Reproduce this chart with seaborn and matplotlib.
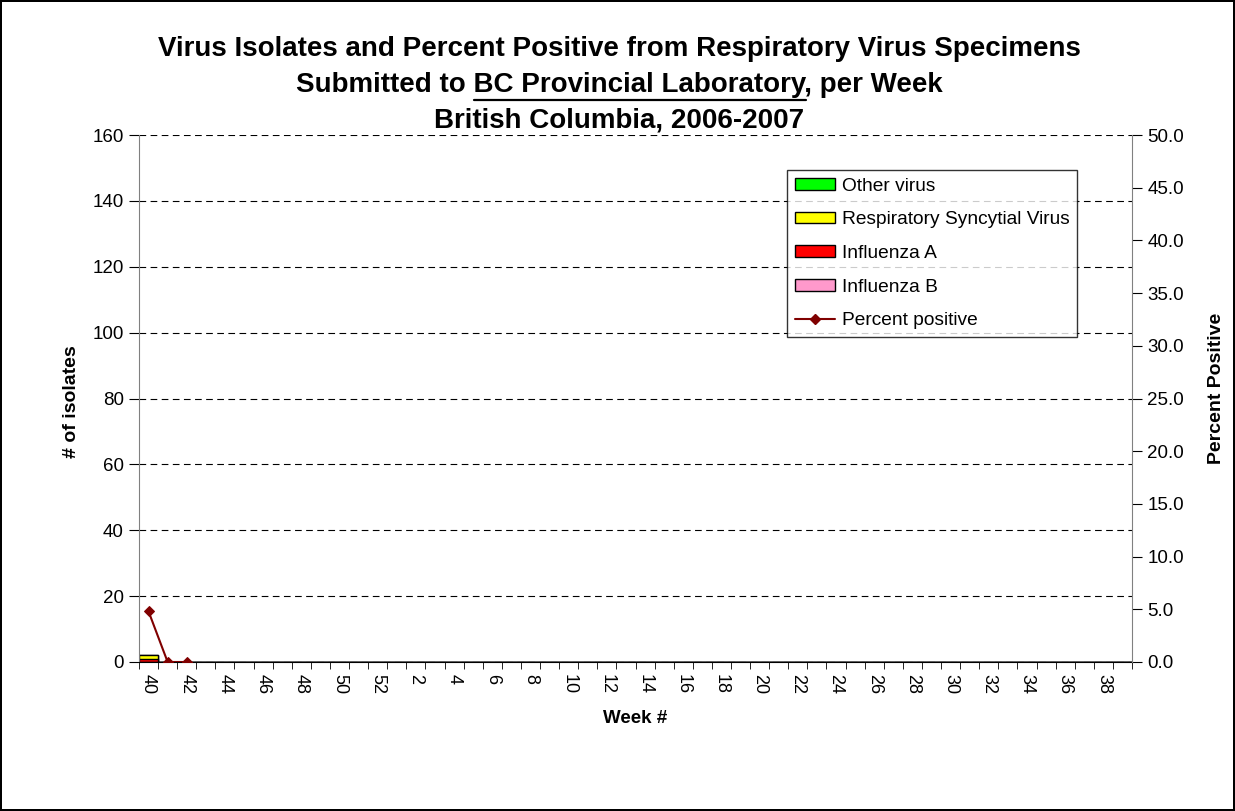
import numpy as np
import matplotlib
matplotlib.use('Agg')
import matplotlib.pyplot as plt
from matplotlib.patches import Patch
from matplotlib.lines import Line2D
import pandas as pd
import seaborn as sns

# data (season 2006-2007, weeks 40..52 then 1..39)
weeks = [str(w) for w in list(range(40, 53)) + list(range(1, 40))]
influenza_b = [0] + [np.nan] * 51
influenza_a = [1] + [np.nan] * 51
rsv = [1] + [np.nan] * 51
other_virus = [0] + [np.nan] * 51
pct_positive = [4.8, 0.0, 0.0] + [np.nan] * 49

sns.set_style('white', rc={'text.color': 'black', 'axes.labelcolor': 'black',
                           'xtick.color': 'black', 'ytick.color': 'black'})
plt.rcParams['font.family'] = ['Liberation Sans', 'DejaVu Sans']

df = pd.DataFrame({'week': weeks, 'flu_b': influenza_b, 'flu_a': influenza_a,
                   'rsv': rsv, 'other': other_virus, 'pct': pct_positive})
bars = df[['flu_b', 'flu_a', 'rsv', 'other']].fillna(0)
df['c_b'] = bars['flu_b']
df['c_a'] = df['c_b'] + bars['flu_a']
df['c_rsv'] = df['c_a'] + bars['rsv']
df['c_other'] = df['c_rsv'] + bars['other']

fig = plt.figure(figsize=(12.35, 8.11), dpi=100, linewidth=1.5, edgecolor='black')
ax = fig.add_axes([139/1235, 1-662/811, (1132-139)/1235, (662-135)/811])

# stacked bars: draw cumulative totals from the top layer down
layers = [('c_other', '#00FF00'), ('c_rsv', '#FFFF00'), ('c_a', '#FF0000'), ('c_b', '#FF99CC')]
for col, colr in layers:
    sns.barplot(data=df, x='week', y=col, order=weeks, color=colr, edgecolor='black',
                linewidth=1, width=1.0, errorbar=None, saturation=1, ax=ax)

ax.set_xlim(-0.5, len(weeks) - 0.5)
ax.set_ylim(0, 160)
ax.set_yticks(range(0, 161, 20))
ax.tick_params(axis='y', labelsize=13.5, length=7, direction='out', left=True, pad=4)
ax.yaxis.grid(True, linestyle=(0, (6, 4)), color='black', linewidth=0.8)
ax.set_axisbelow(True)
ax.set_xticks(range(0, len(weeks), 2))
ax.set_xticklabels(weeks[::2], rotation=-90, fontsize=13)
ax.set_xticks(np.arange(-0.5, len(weeks), 1), minor=True)
ax.tick_params(axis='x', which='major', length=0, pad=9)
ax.tick_params(axis='x', which='minor', length=5, bottom=True, direction='out')
ax.set_xlabel('Week #', fontsize=13.5, fontweight='bold')
ax.xaxis.set_label_coords(0.5, -0.091)
ax.set_ylabel('# of isolates', fontsize=14, fontweight='bold')
ax.yaxis.set_label_coords(-0.0594, 0.495)
ax.spines['top'].set_visible(False)
ax.spines['right'].set_visible(False)
ax.spines['left'].set_color('#808080')
ax.spines['bottom'].set_color('black')

ax2 = ax.twinx()
sns.lineplot(x=np.arange(len(weeks)), y=df['pct'], color='#800000', marker='D',
             markersize=5.5, markeredgecolor='#800000', linewidth=1.5, ax=ax2)
ax2.set_ylim(0, 50)
ax2.set_yticks(np.arange(0, 50.1, 5))
ax2.set_yticklabels([f'{v:.1f}' for v in np.arange(0, 50.1, 5)])
ax2.tick_params(axis='y', labelsize=13.5, length=7, direction='out', right=True, pad=4)
ax2.set_ylabel('Percent Positive', fontsize=14, fontweight='bold')
ax2.yaxis.set_label_coords(1.0766, 0.52)
for s in ['top', 'left', 'bottom']:
    ax2.spines[s].set_visible(False)
ax2.spines['right'].set_color('#808080')
ax2.set_xlim(-0.5, len(weeks) - 0.5)

handles = [Patch(facecolor='#00FF00', edgecolor='black', label='Other virus'),
           Patch(facecolor='#FFFF00', edgecolor='black', label='Respiratory Syncytial Virus'),
           Patch(facecolor='#FF0000', edgecolor='black', label='Influenza A'),
           Patch(facecolor='#FF99CC', edgecolor='black', label='Influenza B'),
           Line2D([], [], color='#800000', marker='D', markersize=5, label='Percent positive')]
leg = ax2.legend(handles=handles, loc='upper right', bbox_to_anchor=(0.9446, 0.9336),
                 fontsize=13.8, frameon=True, fancybox=False, edgecolor='black',
                 handlelength=2.1, handleheight=0.55, labelspacing=0.87, borderpad=0.4,
                 handletextpad=0.35, borderaxespad=0)
leg.get_frame().set_linewidth(1)

# title, with underline on the laboratory name
tkw = dict(fontsize=20, fontweight='bold', ha='center', va='baseline')
cx = 619.5 / 1235
fig.text(cx, 1-56/811, 'Virus Isolates and Percent Positive from Respiratory Virus Specimens', **tkw)
line2 = fig.text(cx, 1-92/811, 'Submitted to BC Provincial Laboratory, per Week', **tkw)
fig.text(cx, 1-128/811, 'British Columbia, 2006-2007', **tkw)

fig.canvas.draw()
r = fig.canvas.get_renderer()
bb = line2.get_window_extent(r)
def width_of(s):
    t = fig.text(0, 0, s, fontsize=20, fontweight='bold')
    w = t.get_window_extent(r).width
    t.remove()
    return w
x0 = bb.x0 + width_of('Submitted to ')
x1 = bb.x0 + width_of('Submitted to BC Provincial Laboratory')
yu = 811 - 100
fig.add_artist(Line2D([x0/1235, x1/1235], [yu/811, yu/811], color='black', linewidth=1.6,
                      transform=fig.transFigure))

fig.savefig('out.png', dpi=100)
